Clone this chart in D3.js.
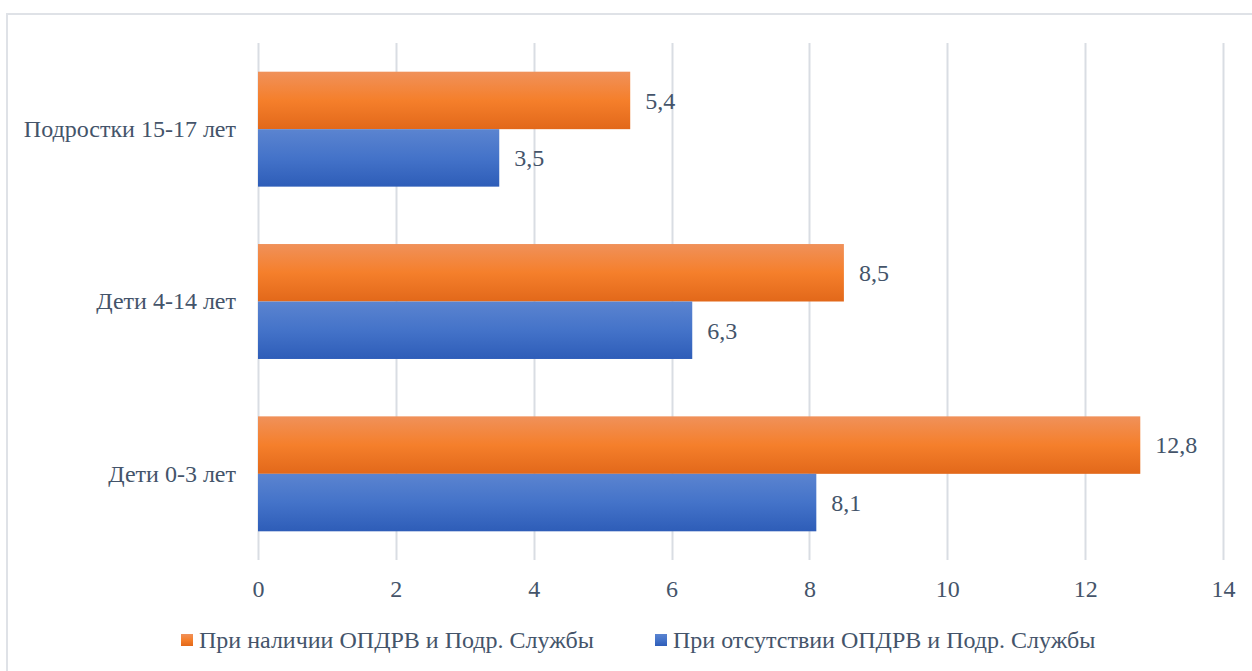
<!DOCTYPE html>
<html>
<head>
<meta charset="utf-8">
<script src="https://cdn.jsdelivr.net/npm/d3@7"></script>
<style>
  html, body { margin: 0; padding: 0; background: #fff; }
  svg { display: block; }
</style>
</head>
<body>
<svg id="chart" width="1252" height="671"></svg>
<script>
// Age groups, bottom to top as drawn on the vertical axis
const categories = ["Дети 0-3 лет", "Дети 4-14 лет", "Подростки 15-17 лет"];
const seriesNames = ["При наличии ОПДРВ и Подр. Службы", "При отсутствии ОПДРВ и Подр. Службы"];
const withService = [12.8, 8.5, 5.4];
const withoutService = [8.1, 6.3, 3.5];
const xTicks = [0, 2, 4, 6, 8, 10, 12, 14];

const W = 1252, H = 671;
const FONT = '"Liberation Serif"';
const TEXT_COLOR = "#44546a";
const FS = "24px";
const svg = d3.select("#chart");

const margin = { left: 258, right: 29, top: 43, bottom: 111 };
const plotW = W - margin.left - margin.right;
const plotH = H - margin.top - margin.bottom;

function styleText(sel) {
  return sel.style("font-family", FONT).style("font-size", FS).attr("fill", TEXT_COLOR);
}

const defs = svg.append("defs");
function grad(id, stops) {
  const gr = defs.append("linearGradient").attr("id", id)
    .attr("x1", 0).attr("y1", 0).attr("x2", 0).attr("y2", 1);
  stops.forEach(([o, c]) => gr.append("stop").attr("offset", o).attr("stop-color", c));
}
grad("gOrange", [[0, "#f0915a"], [0.5, "#f57f2b"], [1, "#e2681a"]]);
grad("gBlue", [[0, "#5b84d0"], [0.5, "#4473c9"], [1, "#2e5db8"]]);

// chart frame (top and left edges fall inside the page)
svg.append("rect").attr("x", 7).attr("y", 14).attr("width", W + 20).attr("height", H + 20)
  .attr("fill", "#fff").attr("stroke", "#dfe2e7").attr("stroke-width", 2);

const g = svg.append("g").attr("transform", `translate(${margin.left},${margin.top})`);

const x = d3.scaleLinear().domain([0, 14]).range([0, plotW]);
const y = d3.scaleBand().domain(categories.slice().reverse()).range([0, plotH])
  .paddingInner(0.333).paddingOuter(0.1665);
const sub = d3.scaleBand().domain(seriesNames).range([0, y.bandwidth()]);

// vertical gridlines
g.selectAll("line.grid").data(xTicks).join("line")
  .attr("class", "grid")
  .attr("x1", d => Math.round(x(d)) + 0.5).attr("x2", d => Math.round(x(d)) + 0.5)
  .attr("y1", 0).attr("y2", plotH)
  .attr("stroke", "#d9dde3").attr("stroke-width", 2);

// x axis tick labels
const xAxis = d3.axisBottom(x).tickValues(xTicks).tickSize(0).tickPadding(0);
const xa = g.append("g").attr("transform", `translate(0,${plotH + 29})`).call(xAxis);
xa.attr("font-family", null).attr("font-size", null);
xa.select(".domain").remove();
styleText(xa.selectAll("text").attr("y", 0).attr("dy", "0.35em"));

// y axis category labels
const yAxis = d3.axisLeft(y).tickSize(0).tickPadding(22);
const ya = g.append("g").call(yAxis);
ya.attr("font-family", null).attr("font-size", null);
ya.select(".domain").remove();
styleText(ya.selectAll("text"));

const rows = categories.map((c, i) => ({ c, vals: [withService[i], withoutService[i]] }));
const fills = ["url(#gOrange)", "url(#gBlue)"];

const groups = g.selectAll("g.cat").data(rows).join("g")
  .attr("class", "cat").attr("transform", d => `translate(0,${y(d.c)})`);

groups.selectAll("rect").data(d => d.vals.map((v, k) => ({ v, k })))
  .join("rect")
  .attr("x", x(0)).attr("y", d => sub(seriesNames[d.k]))
  .attr("width", d => x(d.v) - x(0)).attr("height", sub.bandwidth())
  .attr("fill", d => fills[d.k]);

styleText(groups.selectAll("text.val").data(d => d.vals.map((v, k) => ({ v, k })))
  .join("text").attr("class", "val")
  .attr("x", d => x(d.v) + 15)
  .attr("y", d => sub(seriesNames[d.k]) + sub.bandwidth() / 2)
  .attr("dy", "0.35em")
  .text(d => String(d.v).replace(".", ",")));

// legend
const legend = svg.append("g").attr("transform", "translate(0,640)");
const legendX = [181, 655];
seriesNames.forEach((name, i) => {
  const lg = legend.append("g").attr("transform", `translate(${legendX[i]},0)`);
  lg.append("rect").attr("x", 0).attr("y", -6).attr("width", 12).attr("height", 12)
    .attr("fill", fills[i]);
  styleText(lg.append("text").attr("x", 18).attr("y", 0).attr("dy", "0.35em").text(name));
});
</script>
</body>
</html>
